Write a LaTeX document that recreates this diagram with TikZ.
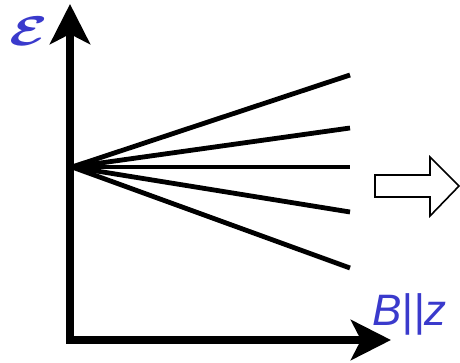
\documentclass[tikz,border=0pt]{standalone}
\usepackage{amsmath}
\usepackage{fontspec}
\setsansfont{Liberation Sans}
\usetikzlibrary{arrows.meta}
\definecolor{labelblue}{RGB}{58,58,204}
\begin{document}
\begin{tikzpicture}[x=0.5pt,y=-0.5pt,
    axis/.style={line width=3.8pt,line join=miter,{Stealth[length=20pt,width=20pt,inset=5pt]}-{Stealth[length=20pt,width=20pt,inset=5pt]}},
    level/.style={line width=2.4pt},
    biglabel/.style={text=labelblue,inner sep=0pt}]
    \useasboundingbox (0,0) rectangle (460,363);
    % axes
    \coordinate (ytip) at (70,4);
    \coordinate (corner) at (70,340);
    \coordinate (xtip) at (391,340);
    \draw[axis] (ytip) -- (corner) -- (xtip);
    \node[biglabel,anchor=base west] (elabel) at (9,46) {\scalebox{1.35}[1]{\fontsize{22}{26}\selectfont$\boldsymbol{\mathcal{E}}$}};
    \node[biglabel,anchor=base west] (blabel) at (372,325) {\fontsize{22}{26}\selectfont\sffamily\itshape B||z};
    % splitting fan
    \coordinate (orig) at (72,167);
    \foreach \y in {75,128,167,212,268} \draw[level] (orig) -- (350,\y);
    % hollow arrow
    \draw[line width=0.8pt,line join=miter] (375,175) -- (430,175) -- (430,157) -- (459,186)
        -- (430,216) -- (430,197) -- (375,197) -- cycle;
\end{tikzpicture}
\end{document}
